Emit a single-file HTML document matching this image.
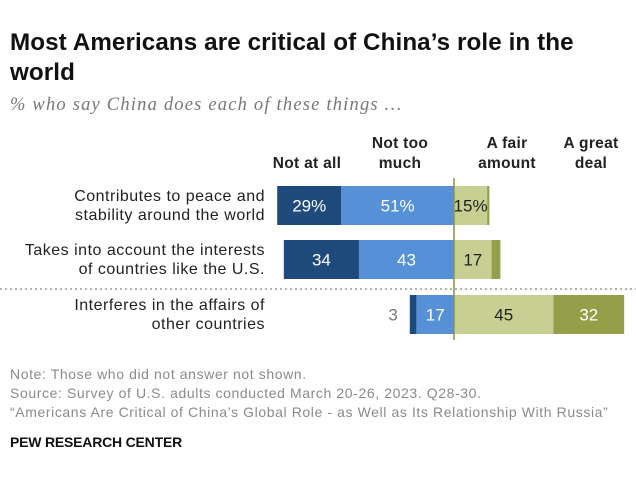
<!DOCTYPE html>
<html><head><meta charset="utf-8"><style>
body{margin:0;background:#fff;width:636px;height:496px;overflow:hidden;font-family:"Liberation Sans",sans-serif;position:relative}
.t{position:absolute;white-space:nowrap}
</style></head><body>
<div class="t" style="left:10px;top:28px;font-size:24.2px;font-weight:bold;line-height:30px;color:#111;letter-spacing:0.1px">Most Americans are critical of China’s role in the<br>world</div>
<div class="t" style="left:10px;top:95px;font-size:18.5px;font-style:italic;color:#777;font-family:'Liberation Serif',serif;letter-spacing:1.2px">% who say China does each of these things …</div>
<svg id="chart" width="636" height="496" style="position:absolute;left:0;top:0" font-family="Liberation Sans, sans-serif"></svg>
<div class="t" style="left:10px;top:365px;font-size:14px;line-height:19px;color:#8a8a8a;letter-spacing:0.6px">Note: Those who did not answer not shown.<br>Source: Survey of U.S. adults conducted March 20-26, 2023. Q28-30.<br>“Americans Are Critical of China’s Global Role - as Well as Its Relationship With Russia”</div>
<div class="t" style="left:10px;top:434px;font-size:14px;font-weight:bold;color:#111;letter-spacing:-0.2px">PEW RESEARCH CENTER</div>
<script>
const categories=[["Contributes to peace and","stability around the world"],["Takes into account the interests","of countries like the U.S."],["Interferes in the affairs of","other countries"]];
const notAtAll=[29,34,3];
const notTooMuch=[51,43,17];
const fairAmount=[15,17,45];
const greatDeal=[1,4,32];
const headers=[["Not at all"],["Not too","much"],["A fair","amount"],["A great","deal"]];
const svg=document.getElementById('chart');const NS='http://www.w3.org/2000/svg';
const cx=454,k=2.21,rowY=[186,240,295],bh=39;
const x=v=>cx+v*k;
function mk(t,a){const e=document.createElementNS(NS,t);for(const n in a)e.setAttribute(n,a[n]);svg.appendChild(e);return e;}
function bar(x0,w,fill,label,tc,i,name,outside){
 const r=mk('rect',{x:x0,y:rowY[i],width:Math.max(w,0),height:bh,fill:fill});
 
 
 if(label!==null){const t=mk('text',{x:outside?x0-12:x0+w/2,y:rowY[i]+bh/2+6,'text-anchor':outside?'end':'middle','font-size':17,fill:outside?'#777':tc});t.textContent=label;
 
 }
}
for(let i=0;i<3;i++){
 const pct=i===0?'%':'';
 const a=notAtAll[i],b=notTooMuch[i],c=fairAmount[i],d=greatDeal[i];
 bar(x(-(a+b)),a*k,'#1f4a7c',String(a)+pct,'#fff',i,'bar-not-at-all-'+i,a<6);
 bar(x(-b),b*k,'#5690d6',String(b)+pct,'#fff',i,'bar-not-too-much-'+i,false);
 bar(x(0),c*k,'#c8cf92',String(c)+pct,'#222',i,'bar-fair-amount-'+i,false);
 bar(x(c),d*k,'#959e49',d>=6?String(d)+pct:null,'#fff',i,'bar-great-deal-'+i,false);
 categories[i].forEach((s,j)=>{const t=mk('text',{x:265,y:rowY[i]+15+j*19,'text-anchor':'end','font-size':16,fill:'#222','letter-spacing':0.5});t.textContent=s;
 
 });
}
const hx=[307,400,507,591];
headers.forEach((h,i)=>{h.forEach((s,j)=>{const t=mk('text',{x:hx[i],y:168-(h.length-1-j)*20,'text-anchor':'middle','font-size':15.5,'font-weight':'bold',fill:'#222','letter-spacing':0.3});t.textContent=s;
 
 });});
const sep=mk('line',{x1:0,x2:636,y1:289,y2:289,stroke:'#999','stroke-width':1.5,'stroke-dasharray':'2,3'});


const zl=mk('line',{x1:cx,x2:cx,y1:178,y2:340,stroke:'#8a9040','stroke-width':1.5});


</script>
</body></html>
